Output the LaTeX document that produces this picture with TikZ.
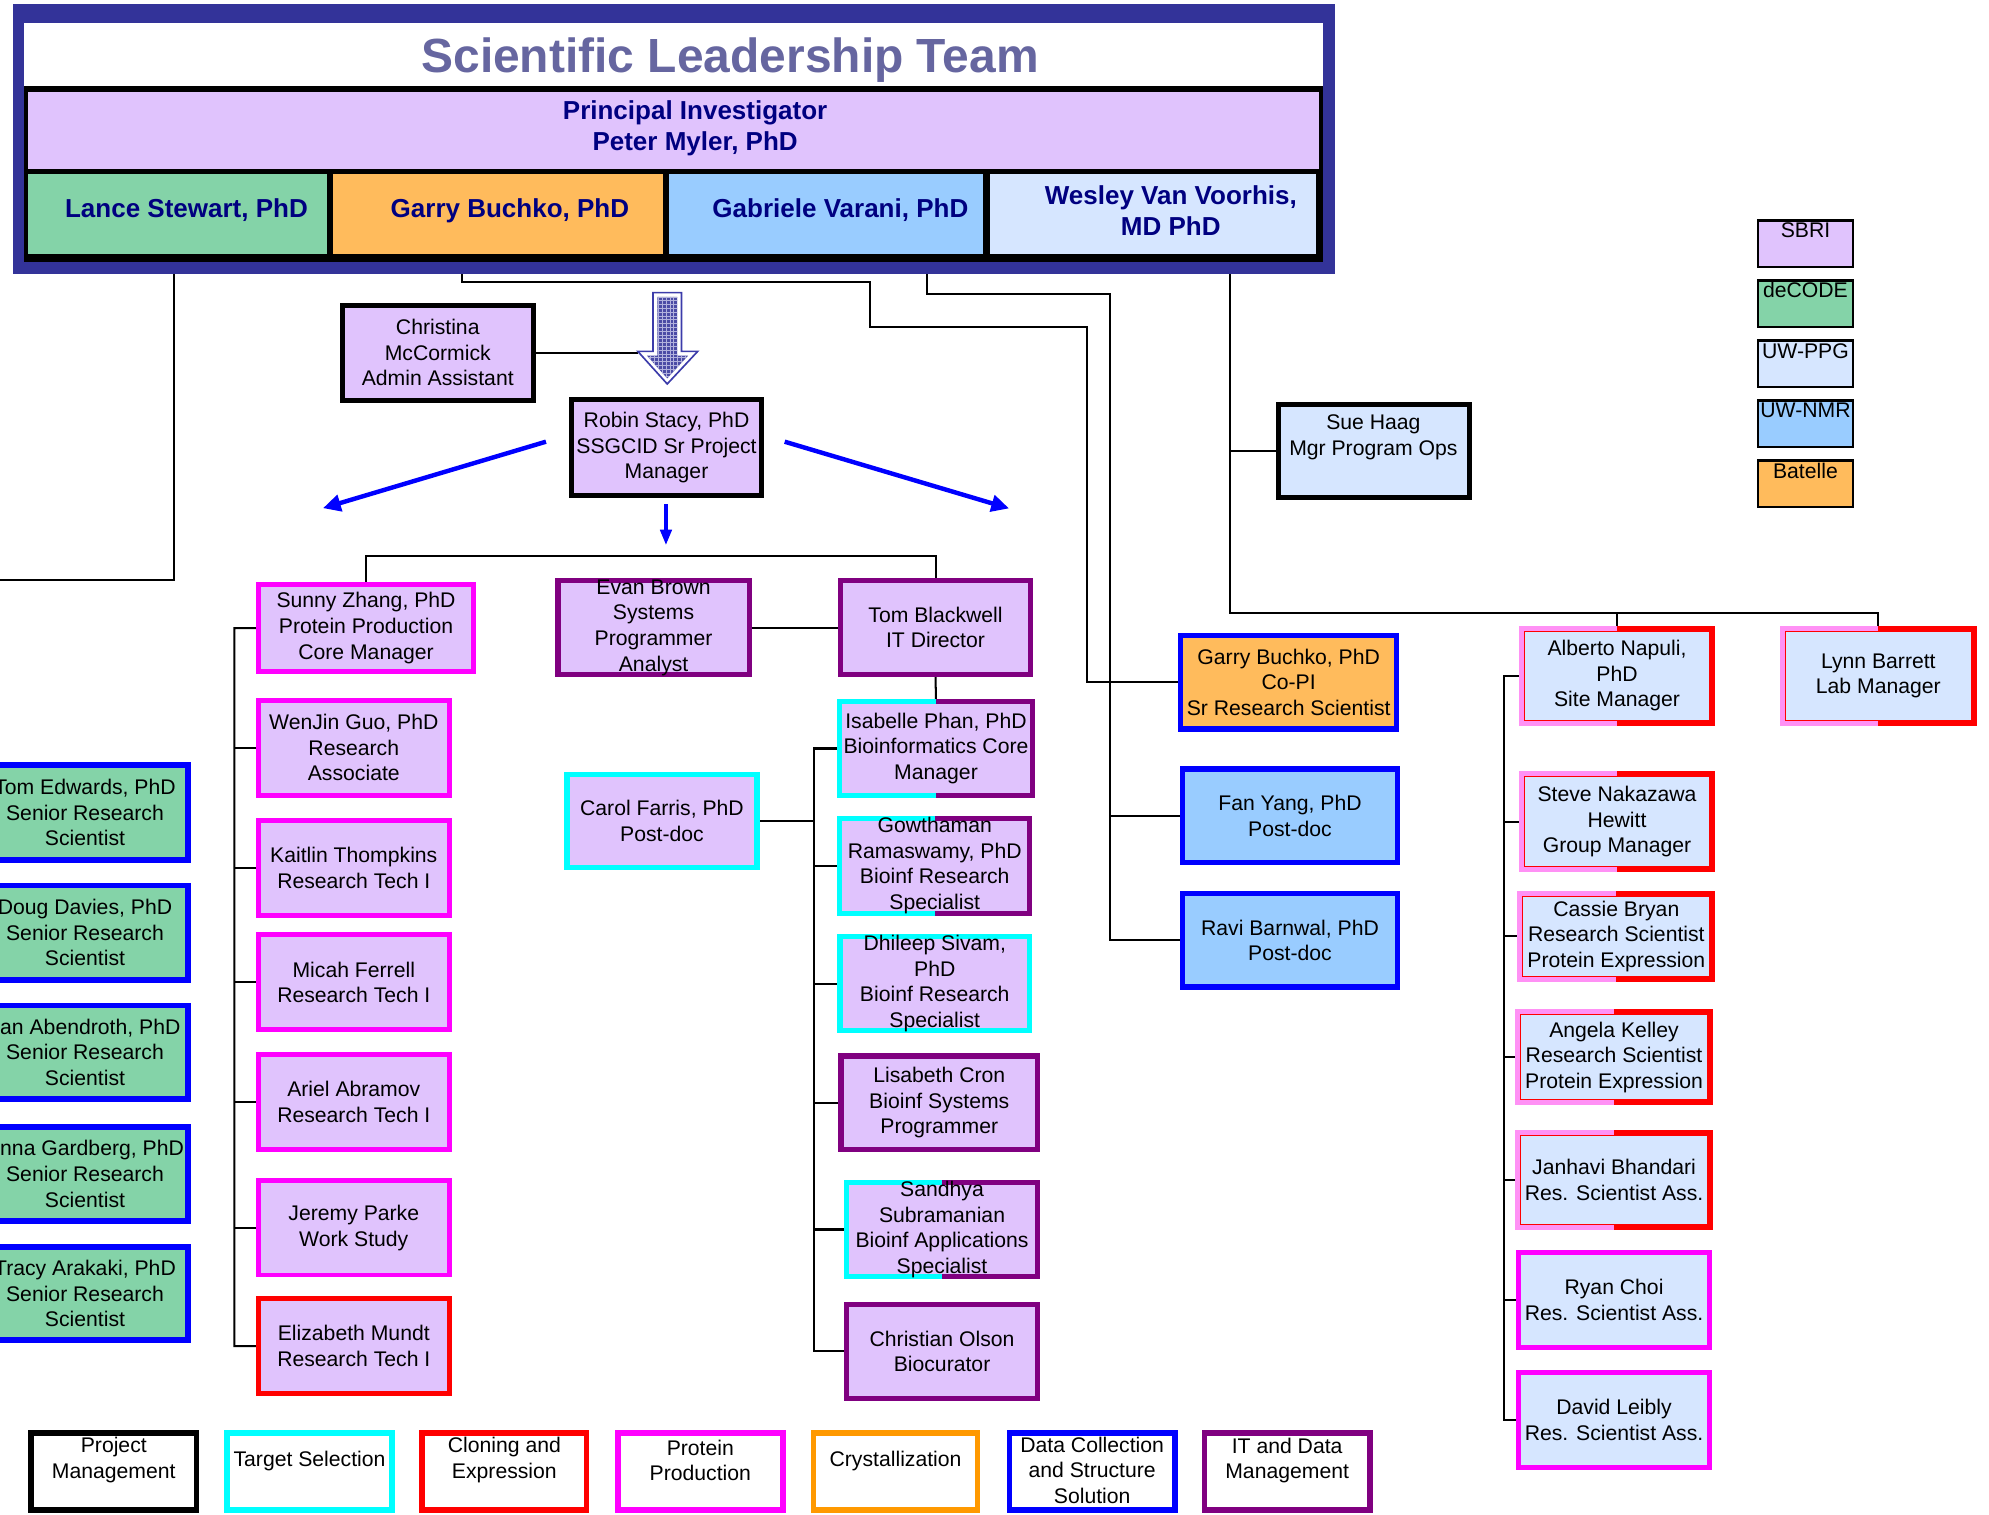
\documentclass[tikz,border=0pt]{standalone}
\usepackage{fontspec}
\setmainfont{Liberation Sans}
\usetikzlibrary{arrows.meta,calc,patterns}
\definecolor{navyF}{RGB}{51,51,153}
\definecolor{titleC}{RGB}{102,102,160}
\definecolor{navyT}{RGB}{0,0,128}
\definecolor{lav}{RGB}{224,195,253}
\definecolor{grn}{RGB}{132,211,168}
\definecolor{org}{RGB}{255,187,92}
\definecolor{lblue}{RGB}{153,204,255}
\definecolor{pblue}{RGB}{214,230,255}
\definecolor{mag}{RGB}{255,0,255}
\definecolor{cyn}{RGB}{0,255,255}
\definecolor{purp}{RGB}{128,0,128}
\definecolor{rd}{RGB}{255,0,0}
\definecolor{bl}{RGB}{0,0,255}
\definecolor{orgB}{RGB}{255,153,0}
\definecolor{pnk}{RGB}{255,145,245}
\definecolor{arrE}{RGB}{60,60,170}
\definecolor{arrF}{RGB}{75,75,165}
\newcommand\bodyfont{\fontsize{16.7}{20.2}\selectfont}
\newcommand\pifont{\fontsize{20.5}{24}\selectfont\bfseries}
% name, x1, y1, x2, y2, style, lw, text
\newcommand\mkbox[8]{%
 \node[inner sep=0pt, rectangle, #6, line width=#7pt, minimum width={(#4)-(#2)-(#7)}, minimum height={(#5)-(#3)-(#7)}] (#1) at ({((#2)+(#4))/2},{((#3)+(#5))/2}) {};
 \node[txt] (#1t) at (#1.center) {#8};}
% name, x1, y1, x2, y2, fill, left colour, right colour, text
\newcommand\mkhbox[9]{%
 \node[inner sep=0pt, rectangle, fill=#6, minimum width={(#4)-(#2)-4}, minimum height={(#5)-(#3)-4}] (#1) at ({((#2)+(#4))/2},{((#3)+(#5))/2}) {};
 \draw[line width=4pt, draw=#7] (#1.north) -- (#1.north west) -- (#1.south west) -- (#1.south);
 \draw[line width=4pt, draw=#8] (#1.north) -- (#1.north east) -- (#1.south east) -- (#1.south);
 \node[txt] (#1t) at (#1.center) {#9};}
\newcommand\pinkin[1]{\draw[rd, line width=0.8pt] ([shift={(2.4,2.4)}]#1.north west) rectangle ([shift={(-2.4,-2.4)}]#1.south east);}
% name, x1, y1, x2, y2, colour
\newcommand\fillbx[6]{%
 \node[inner sep=0pt, rectangle, fill=#6, draw=none, minimum width={(#4)-(#2)}, minimum height={(#5)-(#3)}] (#1) at ({((#2)+(#4))/2},{((#3)+(#5))/2}) {};}
\pgfdeclarelayer{bg}
\pgfsetlayers{bg,main}
\begin{document}
\begin{tikzpicture}[x=1pt,y=-1pt,
 conn/.style={draw=black,line width=1.6pt},
 txt/.style={font=\bodyfont,align=center,inner sep=0pt,text=black},
 barrow/.style={draw=bl,line width=3.5pt,-{Triangle[length=14pt,width=13pt]}},
 barrowS/.style={draw=bl,line width=2.5pt,-{Triangle[length=12pt,width=9pt]}},
 lavbox/.style={fill=lav},
 magbox/.style={fill=lav,draw=mag},
 redbox/.style={fill=lav,draw=rd},
 purbox/.style={fill=lav,draw=purp},
 cynbox/.style={fill=lav,draw=cyn},
 blkbox/.style={fill=lav,draw=black},
 grnbox/.style={fill=grn,draw=bl},
 legbox/.style={fill=white},
 ]
\useasboundingbox (0,0) rectangle (1568,1194);
\clip (0,0) rectangle (1568,1194);

% ---------- top block ----------
\fillbx{frame}{10}{3.2}{1052.4}{216}{navyF}
\fillbx{titlebg}{18.9}{18.4}{1043}{67.8}{white}
\fillbx{blackbg}{18.9}{67.8}{1043}{206.3}{black}
\fillbx{pi}{22.2}{72.3}{1039.6}{133.5}{lav}
\fillbx{lance}{22.2}{137.2}{258.1}{200.5}{grn}
\fillbx{garryT}{262.8}{137.2}{522.8}{200.5}{org}
\fillbx{gabriele}{527.6}{137.2}{774.9}{200.5}{lblue}
\fillbx{wesley}{780.2}{137.2}{1037.6}{200.5}{pblue}
\node[anchor=base, font=\fontsize{37.8}{44}\selectfont\bfseries, text=titleC, inner sep=0pt] (title) at (575.5,57.3) {Scientific Leadership Team};
\node[font=\pifont, text=navyT, align=center, inner sep=0pt] (pit) at (548,101) {Principal Investigator\\Peter Myler, PhD};
\node[font=\pifont, text=navyT, inner sep=0pt] (lancet) at (147,166) {Lance Stewart, PhD};
\node[font=\pifont, text=navyT, inner sep=0pt] (garryTt) at (402,166) {Garry Buchko, PhD};
\node[font=\pifont, text=navyT, inner sep=0pt] (gabrielet) at (662.5,166) {Gabriele Varani, PhD};
\node[font=\pifont, text=navyT, align=center, inner sep=0pt] (wesleyt) at (923,166) {Wesley Van Voorhis,\\MD PhD};

\coordinate (f1) at (136.8,216);
\coordinate (f2) at (364,216);
\coordinate (f3) at (731,216);
\coordinate (f4) at (969.7,210);
\coordinate (lanceOut) at (0,457.2);
\coordinate (c1) at (686,222);
\coordinate (c2) at (857,258);
\coordinate (c3) at (875,232);
\coordinate (wbus) at (1480.75,483);
\coordinate (bus) at (525,438);
\coordinate (arrL) at (503,278);

% ---------- legend (top right) ----------
\mkbox{sbri}{1385}{172.9}{1461.6}{211.5}{fill=lav,draw=black}{2}{}
\mkbox{decode}{1385}{220.2}{1461.6}{258.6}{fill=grn,draw=black}{2}{}
\mkbox{uwppg}{1385}{267.5}{1461.6}{306.1}{fill=pblue,draw=black}{2}{}
\mkbox{uwnmr}{1385}{314.8}{1461.6}{353.4}{fill=lblue,draw=black}{2}{}
\mkbox{batelle}{1385}{362.1}{1461.6}{400.7}{fill=org,draw=black}{2}{}
\node[txt] (sbril) at (1423.3,181.3) {SBRI};
\node[txt] (decodel) at (1423.3,228.6) {deCODE};
\node[txt] (uwppgl) at (1423.3,276.5) {UW-PPG};
\node[txt] (uwnmrl) at (1423.3,323.8) {UW-NMR};
\node[txt] (batellel) at (1423.3,371) {Batelle};

% ---------- project management ----------
\mkbox{christina}{267.9}{238.6}{422.3}{317.4}{blkbox}{4}{Christina\\McCormick\\Admin Assistant}
\mkbox{robin}{448.6}{313}{602.3}{392.6}{blkbox}{4}{Robin Stacy, PhD\\SSGCID Sr Project\\Manager}

% big hollow arrow
\draw[line width=1.3pt, draw=arrE, fill=white] (514.8,230.7) -- (537.3,230.7) -- (537.3,277) -- (550,277) -- (526,302.7) -- (502.8,277) -- (514.8,277) -- cycle;
\fill[arrF] (518.3,234) -- (533.8,234) -- (533.8,280.3) -- (542.5,280.3) -- (526,298.3) -- (510,280.3) -- (518.3,280.3) -- cycle;
\fill[pattern=grid, pattern color=arrE!40!white] (518.3,234) -- (533.8,234) -- (533.8,280.3) -- (542.5,280.3) -- (526,298.3) -- (510,280.3) -- (518.3,280.3) -- cycle;

% blue arrows
\coordinate (rbL) at (430.4,348.2);
\coordinate (rbLe) at (254.6,400.6);
\coordinate (rbR) at (618.6,348.2);
\coordinate (rbRe) at (795.5,400.8);
\coordinate (rbD) at (525,397.4);
\coordinate (rbDe) at (525,429.6);
\draw[barrow] (rbL) -- (rbLe);
\draw[barrow] (rbR) -- (rbRe);
\draw[barrowS] (rbD) -- (rbDe);

% ---------- protein production ----------
\mkbox{sunny}{201.8}{458.8}{375.3}{531.4}{magbox}{3.8}{Sunny Zhang, PhD\\Protein Production\\Core Manager}
\mkbox{wenjin}{201.8}{550}{356}{628.8}{magbox}{3.8}{WenJin Guo, PhD\\Research\\Associate}
\mkbox{kaitlin}{201.8}{644.6}{356}{723.4}{magbox}{3.8}{Kaitlin Thompkins\\Research Tech I}
\mkbox{micah}{201.8}{735}{356}{813.7}{magbox}{3.8}{Micah Ferrell\\Research Tech I}
\mkbox{ariel}{201.8}{829.6}{356}{908}{magbox}{3.8}{Ariel Abramov\\Research Tech I}
\mkbox{jeremy}{201.8}{928.7}{356}{1007}{magbox}{3.8}{Jeremy Parke\\Work Study}
\mkbox{elizabeth}{201.8}{1021.8}{356}{1100.5}{redbox}{3.8}{Elizabeth Mundt\\Research Tech I}
\coordinate (sx) at (184.7,495.1);

% ---------- deCODE ----------
\mkbox{tomE}{-16.3}{601}{150.3}{680}{grnbox}{4.5}{Tom Edwards, PhD\\Senior Research\\Scientist}
\mkbox{doug}{-16.3}{695.8}{150.3}{774.7}{grnbox}{4.5}{Doug Davies, PhD\\Senior Research\\Scientist}
\mkbox{jan}{-16.3}{790.4}{150.3}{868.5}{grnbox}{4.5}{Jan Abendroth, PhD\\Senior Research\\Scientist}
\mkbox{anna}{-16.3}{886}{150.3}{964.7}{grnbox}{4.5}{Anna Gardberg, PhD\\Senior Research\\Scientist}
\mkbox{tracy}{-16.3}{980.7}{150.3}{1058.8}{grnbox}{4.5}{Tracy Arakaki, PhD\\Senior Research\\Scientist}

% ---------- IT and bioinformatics ----------
\mkbox{evan}{437.8}{455.7}{592.7}{533.7}{purbox}{4.2}{Evan Brown\\Systems\\Programmer\\Analyst}
\mkbox{tom}{660.6}{455.7}{814.4}{533.7}{purbox}{4.2}{Tom Blackwell\\IT Director}
\mkhbox{isabelle}{660.2}{551.3}{815.6}{628.8}{lav}{cyn}{purp}{Isabelle Phan, PhD\\Bioinformatics Core\\Manager}
\mkhbox{gowthaman}{660.2}{643.3}{813.6}{721.6}{lav}{cyn}{purp}{Gowthaman\\Ramaswamy, PhD\\Bioinf Research\\Specialist}
\mkbox{dhileep}{660.2}{736.3}{813.6}{814.6}{cynbox}{4.2}{Dhileep Sivam,\\PhD\\Bioinf Research\\Specialist}
\mkbox{lisabeth}{661}{830.4}{819.9}{908.2}{purbox}{4.2}{Lisabeth Cron\\Bioinf Systems\\Programmer}
\mkhbox{sandhya}{665.4}{930.2}{819.9}{1008.3}{lav}{cyn}{purp}{Sandhya\\Subramanian\\Bioinf Applications\\Specialist}
\mkbox{christian}{665.4}{1026.2}{819.9}{1104.5}{purbox}{4.2}{Christian Olson\\Biocurator}
\mkbox{carol}{444.9}{608.3}{598.8}{685.9}{cynbox}{4.2}{Carol Farris, PhD\\Post-doc}
\coordinate (bx) at (642,590.05);

% ---------- UW ----------
\mkbox{sue}{1005.9}{316.7}{1160.7}{393.9}{fill=pblue,draw=black}{4}{}
\node[txt] (suel) at (1082.7,344.5) {Sue Haag\\Mgr Program Ops};
\mkbox{garryC}{928.9}{499}{1102.9}{576.7}{fill=org,draw=bl}{4}{Garry Buchko, PhD\\Co-PI\\Sr Research Scientist}
\mkbox{fan}{930.2}{604.2}{1103.7}{682.2}{fill=lblue,draw=bl}{4.2}{Fan Yang, PhD\\Post-doc}
\mkbox{ravi}{930.2}{702.2}{1103.7}{780.3}{fill=lblue,draw=bl}{4.2}{Ravi Barnwal, PhD\\Post-doc}

\mkhbox{alberto}{1197.5}{493.3}{1352}{572.3}{pblue}{pnk}{rd}{Alberto Napuli,\\PhD\\Site Manager}
\mkhbox{lynn}{1403.2}{493.3}{1558.3}{572.3}{pblue}{pnk}{rd}{Lynn Barrett\\Lab Manager}
\mkhbox{steve}{1197.5}{608.3}{1352}{687.2}{pblue}{pnk}{rd}{Steve Nakazawa\\Hewitt\\Group Manager}
\mkhbox{cassie}{1196.4}{702.4}{1352}{773.9}{pblue}{pnk}{rd}{Cassie Bryan\\Research Scientist\\Protein Expression}
\mkhbox{angela}{1194.8}{795.7}{1350}{871.1}{pblue}{pnk}{rd}{Angela Kelley\\Research Scientist\\Protein Expression}
\mkhbox{janhavi}{1194.8}{890.8}{1350}{969.6}{pblue}{pnk}{rd}{Janhavi Bhandari\\Res. Scientist Ass.}
\pinkin{alberto}\pinkin{lynn}\pinkin{steve}\pinkin{cassie}\pinkin{angela}\pinkin{janhavi}
\mkbox{ryan}{1194.8}{985.4}{1350}{1064.2}{fill=pblue,draw=mag}{4}{Ryan Choi\\Res. Scientist Ass.}
\mkbox{david}{1194.8}{1080}{1350}{1158.8}{fill=pblue,draw=mag}{4}{David Leibly\\Res. Scientist Ass.}
\coordinate (rx) at (1186,532.8);

% ---------- legend (bottom) ----------
\mkbox{lgpm}{22.3}{1127.3}{157.1}{1192.8}{legbox,draw=black}{4.5}{}
\mkbox{lgts}{176.6}{1127.3}{311.4}{1192.8}{legbox,draw=cyn}{4.5}{}
\mkbox{lgce}{330.6}{1127.3}{464.6}{1192.8}{legbox,draw=rd}{4.5}{}
\mkbox{lgpp}{484.8}{1127.3}{619.4}{1192.8}{legbox,draw=mag}{4.5}{}
\mkbox{lgcr}{639.1}{1127.3}{772.9}{1192.8}{legbox,draw=orgB}{4.5}{}
\mkbox{lgdc}{793.6}{1127.3}{928.4}{1192.8}{legbox,draw=bl}{4.5}{}
\mkbox{lgit}{947.3}{1127.3}{1082.1}{1192.8}{legbox,draw=purp}{4.5}{}
\node[txt] (lgpml) at (89.7,1151.2) {Project\\Management};
\node[txt] (lgtsl) at (244,1151.5) {Target Selection};
\node[txt] (lgcel) at (397.6,1151.2) {Cloning and\\Expression};
\node[txt] (lgppl) at (552.1,1151.2) {Protein\\Production};
\node[txt] (lgcrl) at (706,1151.5) {Crystallization};
\node[txt] (lgdcl) at (861,1159.1) {Data Collection\\and Structure\\Solution};
\node[txt] (lgitl) at (1014.7,1151.4) {IT and Data\\Management};

% ---------- connectors ----------
\begin{pgfonlayer}{bg}
\draw[conn] (f1) |- (lanceOut);
\draw[conn] (f2) |- (c1) |- (c2) |- (garryC.west);
\draw[conn] (f3) |- (c3) |- (ravi.west);
\draw[conn] (fan.west) -- (fan.west -| c3);
\draw[conn] (f4) |- (wbus) -- (lynn.north);
\draw[conn] (sue.west) -- (sue.west -| f4);
\draw[conn] (alberto.north) -- (alberto.north |- wbus);
\draw[conn] (christina.east) -- (arrL);
\draw[conn] (sunny.north) |- (bus) -| (tom.north);
\draw[conn] (evan.east) -- (tom.west);
\draw[conn] (tom.south) -- (isabelle.north);
\draw[conn] (sunny.west) -- (sx) |- (elizabeth.west);
\foreach \n in {wenjin,kaitlin,micah,ariel,jeremy} {\draw[conn] (\n.west) -- (\n.west -| sx);}
\draw[conn] (isabelle.west) -- (bx) |- (christian.west);
\foreach \n in {gowthaman,dhileep,lisabeth,sandhya} {\draw[conn] (\n.west) -- (\n.west -| bx);}
\draw[conn] (carol.east) -- (carol.east -| bx);
\draw[conn] (alberto.west) -- (rx) |- (david.west);
\foreach \n in {steve,cassie,angela,janhavi,ryan} {\draw[conn] (\n.west) -- (\n.west -| rx);}
\end{pgfonlayer}
\end{tikzpicture}
\end{document}
